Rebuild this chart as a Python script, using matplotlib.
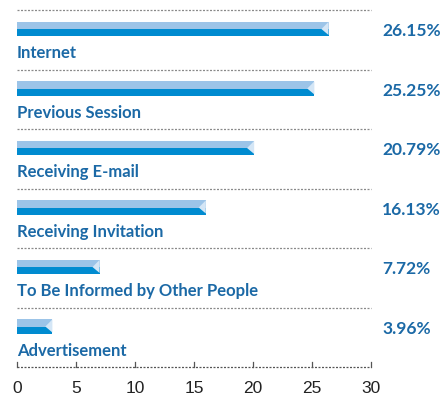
import numpy as np
import matplotlib
matplotlib.use("Agg")
from matplotlib import pyplot as plt
from matplotlib.patches import Polygon

# data (bar lengths as drawn, labels as printed)
categories = ["Internet", "Previous Session", "Receiving E-mail",
              "Receiving Invitation", "To Be Informed by Other People", "Advertisement"]
values = [26.4, 25.2, 20.1, 16.0, 7.0, 3.0]
pct_labels = ["26.15%", "25.25%", "20.79%", "16.13%", "7.72%", "3.96%"]
xticks = [0, 5, 10, 15, 20, 25, 30]

light = "#9cc4e8"
dark = "#008bd0"
pale = "#d4e6f6"
txt = "#1b69a6"
grid = "#8a8a8a"

W, H = 447, 395
fig = plt.figure(figsize=(W / 100, H / 100), dpi=100)
# axes spans from x=17 to 371 px, y from top 0 to 367 px
ax = fig.add_axes([17 / W, (H - 367) / H, 354 / W, 367 / H])
ax.set_xlim(0, 30)
ax.set_ylim(6, -10 / 59.5)
ax.axis("off")

font = ["Lato", "DejaVu Sans"]

for i, (cat, v, pl) in enumerate(zip(categories, values, pct_labels)):
    # dotted separator above each row
    ax.plot([0, 30], [i, i], color=grid, lw=0.9, ls=(0, (1.6, 1.2)), clip_on=False)
    ax.barh(i + 0.26, v, height=0.12, left=0, color=light, linewidth=0)
    ax.barh(i + 0.38, v, height=0.12, left=0, color=dark, linewidth=0)
    ax.add_patch(Polygon([[v - 0.6, i + 0.32], [v, i + 0.20], [v, i + 0.42]],
                         closed=True, color=pale, linewidth=0))
    ax.text(0, i + 0.815, cat, color=txt, fontsize=12, fontweight="bold",
            family=font, va="baseline", ha="left")
    ax.text(30.93, i + 0.437, pl, color=txt, fontsize=12.5, fontweight="bold",
            family=font, va="baseline", ha="left", clip_on=False)

# bottom axis: dotted line with small ticks
ax.plot([0, 30], [6, 6], color="#555555", lw=0.9, ls=(0, (1.6, 1.2)), clip_on=False)
for t in xticks:
    ax.plot([t, t], [6, 6 - 5 / 59.5], color="#555555", lw=0.9, clip_on=False)
    ax.text(t, 6 + 0.43, str(t), color="#222222", fontsize=12.5,
            family=["Liberation Sans", "DejaVu Sans"], ha="center", va="baseline",
            clip_on=False)

fig.savefig("out.png", dpi=100)
